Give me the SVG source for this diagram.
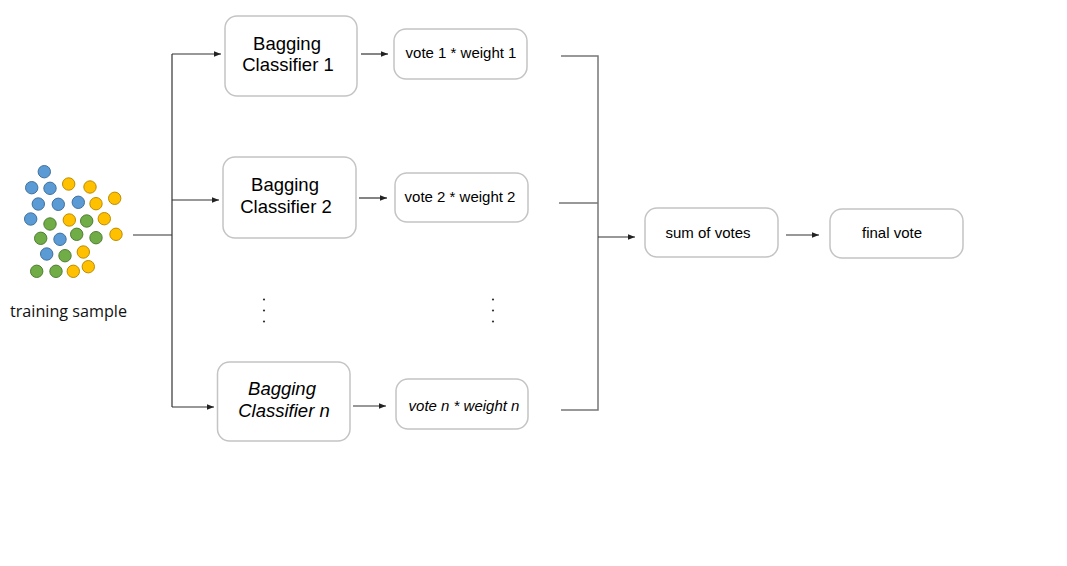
<svg xmlns="http://www.w3.org/2000/svg" width="1067" height="566" viewBox="0 0 1067 566">
<style>
.box{fill:#fff;stroke:#c4c4c4;stroke-width:1.5}
.t{font-family:"Liberation Sans",Arial,sans-serif;fill:#000;text-anchor:middle}
.big{font-size:18.5px}
.sm{font-size:15px}
.it{font-style:italic}
.ln{fill:none;stroke:#333;stroke-width:1.2}
.gl{fill:none;stroke:#777;stroke-width:1.5}
.b{fill:#5B9BD5;stroke:#41719C;stroke-width:1}
.y{fill:#FFC000;stroke:#BC8C00;stroke-width:1}
.g{fill:#70AD47;stroke:#507E32;stroke-width:1}
.dot{fill:#333}
</style>
<defs>
<marker id="ah" viewBox="0 0 10 10" refX="10" refY="5" markerWidth="7" markerHeight="7" markerUnits="userSpaceOnUse" orient="auto">
<path d="M0,1 L10,5 L0,9 z" fill="#222"/>
</marker>
</defs>
<rect width="1067" height="566" fill="#fff"/>
<g id="training-sample">
<circle class="b" cx="44.3" cy="171.7" r="6.2"/>
<circle class="b" cx="31.7" cy="187.7" r="6.2"/>
<circle class="b" cx="50" cy="188.3" r="6.2"/>
<circle class="y" cx="68.7" cy="184" r="6.2"/>
<circle class="y" cx="90" cy="187" r="6.2"/>
<circle class="b" cx="38.3" cy="204" r="6.2"/>
<circle class="b" cx="58.3" cy="204.3" r="6.2"/>
<circle class="b" cx="78.3" cy="202.3" r="6.2"/>
<circle class="y" cx="96" cy="203.7" r="6.2"/>
<circle class="y" cx="114.7" cy="198.3" r="6.2"/>
<circle class="b" cx="30.7" cy="219" r="6.2"/>
<circle class="g" cx="50" cy="224" r="6.2"/>
<circle class="y" cx="69.3" cy="220" r="6.2"/>
<circle class="g" cx="86.7" cy="221" r="6.2"/>
<circle class="y" cx="104.3" cy="218.7" r="6.2"/>
<circle class="g" cx="40.7" cy="238.3" r="6.2"/>
<circle class="b" cx="60" cy="239.3" r="6.2"/>
<circle class="g" cx="76.7" cy="234.3" r="6.2"/>
<circle class="g" cx="96" cy="237.7" r="6.2"/>
<circle class="y" cx="116" cy="234.3" r="6.2"/>
<circle class="b" cx="46.7" cy="254" r="6.2"/>
<circle class="g" cx="65" cy="255.7" r="6.2"/>
<circle class="y" cx="83.3" cy="252" r="6.2"/>
<circle class="g" cx="36.7" cy="271.3" r="6.2"/>
<circle class="g" cx="56" cy="271.3" r="6.2"/>
<circle class="y" cx="73.3" cy="271.3" r="6.2"/>
<circle class="y" cx="88.3" cy="266.7" r="6.2"/>
<text x="68.5" y="317" font-family="'Open Sans','Noto Sans',sans-serif" font-size="16" fill="#111" text-anchor="middle" textLength="117" lengthAdjust="spacingAndGlyphs">training sample</text>
</g>
<g id="connectors">
<path class="ln" d="M133,235 H172"/>
<path class="ln" d="M172,54 V407"/>
<path class="ln" d="M172,54 H221" marker-end="url(#ah)"/>
<path class="ln" d="M172,200 H219" marker-end="url(#ah)"/>
<path class="ln" d="M172,407 H214" marker-end="url(#ah)"/>
<path class="ln" d="M361,54 H388" marker-end="url(#ah)"/>
<path class="ln" d="M359,198 H387" marker-end="url(#ah)"/>
<path class="ln" d="M353,406 H386" marker-end="url(#ah)"/>
<path class="gl" d="M561,56 H598 V410 H561 M559,203 H598"/>
<path class="ln" d="M598,237 H635" marker-end="url(#ah)"/>
<path class="ln" d="M786,235 H819" marker-end="url(#ah)"/>
</g>
<g id="classifier-1">
<rect class="box" x="225" y="16" width="132" height="80" rx="12"/>
<text class="t big" x="287" y="50">Bagging</text>
<text class="t big" x="288" y="71">Classifier 1</text>
</g>
<g id="classifier-2">
<rect class="box" x="223" y="157" width="133" height="81" rx="12"/>
<text class="t big" x="285" y="191">Bagging</text>
<text class="t big" x="286" y="213">Classifier 2</text>
</g>
<g id="classifier-n">
<rect class="box" x="217.5" y="362" width="132.5" height="79" rx="12"/>
<text class="t big it" x="282" y="395">Bagging</text>
<text class="t big it" x="284" y="417">Classifier n</text>
</g>
<g id="vote-1">
<rect class="box" x="394" y="29" width="133" height="50" rx="12"/>
<text class="t sm" x="461" y="58">vote 1 * weight 1</text>
</g>
<g id="vote-2">
<rect class="box" x="395" y="173" width="133" height="49" rx="12"/>
<text class="t sm" x="460" y="202">vote 2 * weight 2</text>
</g>
<g id="vote-n">
<rect class="box" x="396" y="379" width="132" height="50" rx="12"/>
<text class="t sm it" x="464" y="411">vote n * weight n</text>
</g>
<g id="ellipsis">
<circle class="dot" cx="264" cy="299.5" r="1.1"/>
<circle class="dot" cx="264" cy="310.5" r="1.1"/>
<circle class="dot" cx="264" cy="321.5" r="1.1"/>
<circle class="dot" cx="493" cy="299.5" r="1.1"/>
<circle class="dot" cx="493" cy="310.5" r="1.1"/>
<circle class="dot" cx="493" cy="321.5" r="1.1"/>
</g>
<g id="sum-of-votes">
<rect class="box" x="645" y="208" width="133" height="49" rx="12"/>
<text class="t sm" x="708" y="238">sum of votes</text>
</g>
<g id="final-vote">
<rect class="box" x="830" y="209" width="133" height="49" rx="12"/>
<text class="t sm" x="892" y="238">final vote</text>
</g>
</svg>
